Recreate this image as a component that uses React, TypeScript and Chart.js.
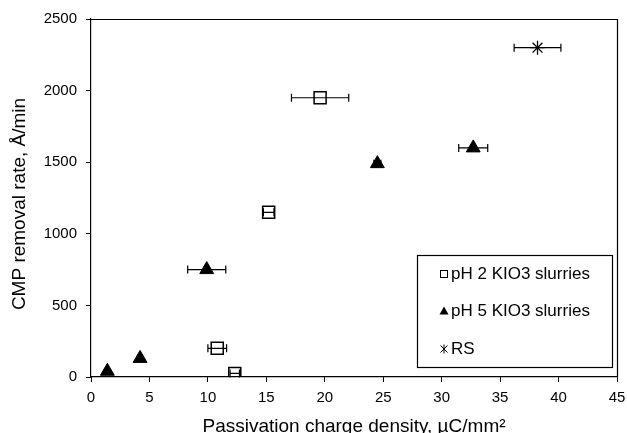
import React, { useEffect, useRef } from "react";
import { Chart, registerables } from "chart.js";

Chart.register(...registerables);

// Data
const ph2X = [10.8, 12.3, 15.2, 19.6];
const ph2Y = [200, 25, 1150, 1950];
const ph2Err = [0.8, 0.4, 0.45, 2.45];

const ph5X = [1.4, 4.2, 9.9, 24.5, 32.7];
const ph5Y = [40, 130, 750, 1490, 1600];
const ph5Err = [0, 0.2, 1.63, 0.3, 1.24];

const rsX = [38.2];
const rsY = [2300];
const rsErr = [2.0];

const seriesLabels = ["pH 2 KIO3 slurries", "pH 5 KIO3 slurries", "RS"];
const xTitle = "Passivation charge density, \u00b5C/mm\u00b2";
const yTitle = "CMP removal rate, \u00c5/min";

const FONT = "'Liberation Sans', Arial, sans-serif";

const errorBarPlugin = {
  id: "errorBars",
  afterDatasetsDraw(chart: any) {
    const ctx = chart.ctx;
    const xs = chart.scales.x;
    const ys = chart.scales.y;
    ctx.save();
    ctx.strokeStyle = "#000";
    ctx.lineWidth = 1.2;
    chart.data.datasets.forEach((ds: any) => {
      const errs: number[] = ds.xErr || [];
      ds.data.forEach((p: any, i: number) => {
        const e = errs[i] || 0;
        if (!e) return;
        const y = ys.getPixelForValue(p.y);
        const x1 = xs.getPixelForValue(p.x - e);
        const x2 = xs.getPixelForValue(p.x + e);
        ctx.beginPath();
        ctx.moveTo(x1, y);
        ctx.lineTo(x2, y);
        ctx.moveTo(x1, y - 4);
        ctx.lineTo(x1, y + 4);
        ctx.moveTo(x2, y - 4);
        ctx.lineTo(x2, y + 4);
        ctx.stroke();
      });
    });
    ctx.restore();
  },
};

const framePlugin = {
  id: "frameAndText",
  afterDraw(chart: any) {
    const ctx = chart.ctx;
    const a = chart.chartArea;
    ctx.save();
    // top and right border
    ctx.strokeStyle = "#000";
    ctx.lineWidth = 1.2;
    ctx.beginPath();
    ctx.moveTo(a.left, a.top + 0.5);
    ctx.lineTo(a.right + 0.5, a.top + 0.5);
    ctx.lineTo(a.right + 0.5, a.bottom);
    ctx.stroke();

    // axis titles
    ctx.fillStyle = "#000";
    ctx.font = `19px ${FONT}`;
    ctx.textAlign = "center";
    ctx.textBaseline = "alphabetic";
    ctx.fillText(xTitle, (a.left + a.right) / 2, 432);
    ctx.save();
    ctx.translate(25, 204);
    ctx.rotate(-Math.PI / 2);
    ctx.fillText(yTitle, 0, 0);
    ctx.restore();

    // legend box
    const lx = 417, ly = 255, lw = 195, lh = 112;
    ctx.fillStyle = "#fff";
    ctx.fillRect(lx, ly, lw, lh);
    ctx.strokeStyle = "#000";
    ctx.lineWidth = 1.2;
    ctx.strokeRect(lx + 0.5, ly + 0.5, lw, lh);

    const rows = [274, 311, 349];
    const sx = 444;
    ctx.font = `17px ${FONT}`;
    ctx.textAlign = "left";
    ctx.textBaseline = "middle";
    ctx.fillStyle = "#000";
    seriesLabels.forEach((t, i) => ctx.fillText(t, 451, rows[i]));

    // symbols
    ctx.lineWidth = 1;
    ctx.strokeRect(sx - 3.5, rows[0] - 3.5, 7, 7);
    ctx.beginPath();
    ctx.moveTo(sx, rows[1] - 4.5);
    ctx.lineTo(sx + 4.5, rows[1] + 3.5);
    ctx.lineTo(sx - 4.5, rows[1] + 3.5);
    ctx.closePath();
    ctx.fill();
    ctx.beginPath();
    ctx.moveTo(sx - 3.5, rows[2] - 3.5);
    ctx.lineTo(sx + 3.5, rows[2] + 3.5);
    ctx.moveTo(sx + 3.5, rows[2] - 3.5);
    ctx.lineTo(sx - 3.5, rows[2] + 3.5);
    ctx.moveTo(sx, rows[2] - 4.5);
    ctx.lineTo(sx, rows[2] + 4.5);
    ctx.stroke();
    ctx.restore();
  },
};

const toPts = (xs: number[], ys: number[]) => xs.map((x, i) => ({ x, y: ys[i] }));

export default function App() {
  const ref = useRef<HTMLCanvasElement | null>(null);
  useEffect(() => {
    document.body.style.margin = "0";
    if (!ref.current) return;
    const chart = new Chart(ref.current, {
      type: "scatter",
      data: {
        datasets: [
          {
            label: seriesLabels[0],
            data: toPts(ph2X, ph2Y),
            xErr: ph2Err,
            pointStyle: "rect",
            pointRadius: 8.5,
            pointBorderWidth: 1.5,
            pointBorderColor: "#000",
            pointBackgroundColor: "rgba(0,0,0,0)",
          } as any,
          {
            label: seriesLabels[1],
            data: toPts(ph5X, ph5Y),
            xErr: ph5Err,
            pointStyle: "triangle",
            pointRadius: 8,
            pointBorderWidth: 1,
            pointBorderColor: "#000",
            pointBackgroundColor: "#000",
          } as any,
          {
            label: seriesLabels[2],
            data: toPts(rsX, rsY),
            xErr: rsErr,
            pointStyle: "star",
            pointRadius: 7,
            pointBorderWidth: 1.3,
            pointBorderColor: "#000",
            pointBackgroundColor: "#000",
          } as any,
        ],
      },
      options: {
        animation: false,
        responsive: false,
        devicePixelRatio: 1,
        layout: { padding: { left: 0, top: 19, right: 9, bottom: 0 } },
        plugins: {
          legend: { display: false },
          tooltip: { enabled: false },
        },
        scales: {
          x: {
            type: "linear",
            min: 0,
            max: 45,
            ticks: {
              stepSize: 5,
              color: "#000",
              font: { family: FONT, size: 15 },
              padding: 7,
              maxRotation: 0,
              callback: (v: any) => String(v),
            },
            grid: {
              display: true,
              drawOnChartArea: false,
              drawTicks: true,
              tickLength: 5,
              color: "#000",
            },
            border: { display: true, color: "#000", width: 1.2 },
            afterFit: (s: any) => {
              s.height = 56;
              s.paddingLeft = 0;
              s.paddingRight = 0;
            },
          },
          y: {
            type: "linear",
            min: 0,
            max: 2500,
            ticks: {
              stepSize: 500,
              color: "#000",
              font: { family: FONT, size: 15 },
              padding: 9,
              callback: (v: any) => String(v),
            },
            grid: {
              display: true,
              drawOnChartArea: false,
              drawTicks: true,
              tickLength: 5,
              color: "#000",
            },
            border: { display: true, color: "#000", width: 1.2 },
            afterFit: (s: any) => {
              s.width = 91;
              s.paddingTop = 0;
              s.paddingBottom = 0;
            },
          },
        },
      },
      plugins: [errorBarPlugin, framePlugin],
    });
    return () => chart.destroy();
  }, []);
  return (
    <div style={{ position: "absolute", left: 0, top: 0, width: 627, height: 433, background: "#fff" }}>
      <canvas ref={ref} width={627} height={433} style={{ display: "block" }} />
    </div>
  );
}
